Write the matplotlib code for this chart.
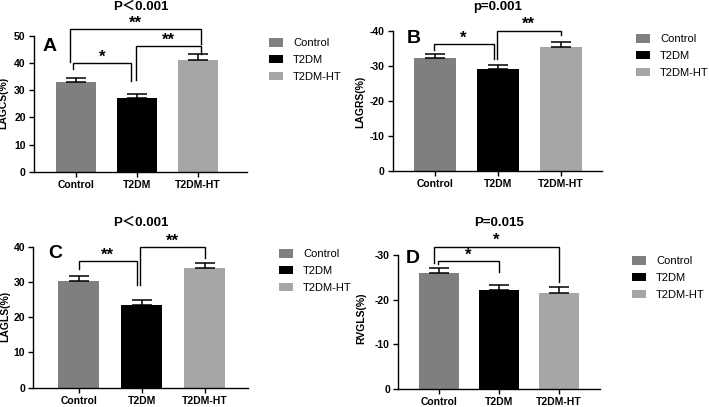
import numpy as np
import matplotlib
matplotlib.use("Agg")
import matplotlib.pyplot as plt
from matplotlib.patches import Patch

plt.rcParams['font.family'] = ['Liberation Sans', 'Noto Sans CJK SC']
plt.rcParams['axes.unicode_minus'] = False

GROUPS = ["Control", "T2DM", "T2DM-HT"]
COLORS = ["#7f7f7f", "#000000", "#a6a6a6"]

# values: bar means and upper error
lagcs_mean = [32.9, 27.0, 41.2]
lagcs_err = [1.7, 1.7, 2.0]
lagrs_mean = [-32.4, -29.1, -35.5]
lagrs_err = [0.9, 1.3, 1.3]
lagls_mean = [30.4, 23.6, 33.9]
lagls_err = [1.2, 1.4, 1.6]
rvgls_mean = [-25.9, -22.1, -21.4]
rvgls_err = [1.2, 1.2, 1.4]

# significance brackets: x start, x end, bracket level, left end, right end, stars
lagcs_sig = [(-0.04, 0.90, 40.0, 37.7, 33.4, "*"),
             (0.98, 2.05, 46.4, 33.8, 43.2, "**"),
             (-0.10, 2.05, 52.4, 40.5, 46.9, "**")]
lagrs_sig = [(-0.02, 0.93, -36.2, -34.6, -31.9, "*"),
             (0.98, 2.00, -40.1, -31.9, -38.9, "**")]
lagls_sig = [(0.01, 0.92, 35.9, 33.6, 29.1, "**"),
             (0.98, 2.00, 40.0, 29.1, 36.7, "**")]
rvgls_sig = [(-0.02, 0.99, -28.7, -27.9, -26.3, "*"),
             (-0.09, 2.00, -31.9, -28.1, -23.9, "*")]

W, H = 709, 407
fig = plt.figure(figsize=(W / 100, H / 100), dpi=100)


def px_rect(x0, x1, ytop, ybot):
    return [x0 / W, 1 - ybot / H, (x1 - x0) / W, (ybot - ytop) / H]


def draw_panel(rect, xlim, mean, err, sig, ylim, yticks, ylabel, ylabel_pos,
               title, title_y, letter, letter_pos, legend_px):
    ax = fig.add_axes(rect)
    x = np.arange(len(GROUPS))
    ax.bar(x, mean, width=0.66, color=COLORS, zorder=2)
    lower = [e if m < 0 else 0 for m, e in zip(mean, err)]
    upper = [e if m > 0 else 0 for m, e in zip(mean, err)]
    ax.errorbar(x, mean, yerr=[lower, upper], fmt='none', ecolor='black',
                elinewidth=1.1, capsize=7, capthick=1.1, zorder=3)

    for x1, x2, top, y1, y2, stars in sig:
        ax.plot([x1, x1, x2, x2], [y1, top, top, y2], color='black', lw=1.0,
                clip_on=False, solid_joinstyle='miter')
        ax.annotate(stars, xy=((x1 + x2) / 2, top), xytext=(0, 1),
                    textcoords='offset points', ha='center', va='baseline',
                    fontsize=12, fontweight='bold', annotation_clip=False)

    ax.set_xlim(*xlim)
    ax.set_ylim(*ylim)
    ax.set_xticks(x, GROUPS, fontsize=7.5, fontweight='bold')
    ax.set_yticks(yticks, [f"{t:d}" for t in yticks], fontsize=7.5, fontweight='bold')
    ax.tick_params(axis='both', length=3.5, width=1.0, direction='out', pad=2.5)
    for s in ['top', 'right']:
        ax.spines[s].set_visible(False)
    for s in ['left', 'bottom']:
        ax.spines[s].set_linewidth(1.0)

    ax.set_ylabel(ylabel, fontsize=7.5, fontweight='bold')
    ax.yaxis.set_label_coords(*ylabel_pos)
    ax.text(0.5, title_y, title, transform=ax.transAxes, ha='center', va='center',
            fontsize=9.5, fontweight='bold')
    ax.text(letter_pos[0], letter_pos[1], letter, transform=ax.transAxes,
            ha='center', va='center', fontsize=14, fontweight='bold')

    handles = [Patch(facecolor=c, edgecolor='none') for c in COLORS]
    ax.legend(handles, GROUPS, loc='upper left', frameon=False, fontsize=8,
              bbox_to_anchor=(legend_px[0] / W, 1 - legend_px[1] / H),
              bbox_transform=fig.transFigure, borderpad=0, borderaxespad=0,
              handlelength=1.25, handleheight=0.8, handletextpad=0.9,
              labelspacing=0.6)
    return ax


draw_panel(px_rect(34, 246.7, 36, 171.7), (-0.685, 2.8), lagcs_mean, lagcs_err,
           lagcs_sig, (0, 50), [0, 10, 20, 30, 40, 50], "LAGCS(%)", (-0.122, 0.506),
           "P＜0.001", 1.216, "A", (0.075, 0.921), (269, 38))
draw_panel(px_rect(392.7, 602, 31, 170.7), (-0.67, 2.65), lagrs_mean, lagrs_err,
           lagrs_sig, (0, -40), [0, -10, -20, -30, -40], "LAGRS(%)", (-0.132, 0.494),
           "p=0.001", 1.174, "B", (0.102, 0.943), (636, 34))
draw_panel(px_rect(33.3, 248, 246.7, 387.7), (-0.72, 2.69), lagls_mean, lagls_err,
           lagls_sig, (0, 40), [0, 10, 20, 30, 40], "LAGLS(%)", (-0.108, 0.503),
           "P＜0.001", 1.170, "C", (0.104, 0.953), (279, 249))
draw_panel(px_rect(398.3, 600, 255, 389), (-0.68, 2.68), rvgls_mean, rvgls_err,
           rvgls_sig, (0, -30), [0, -10, -20, -30], "RVGLS(%)", (-0.16, 0.53),
           "P=0.015", 1.241, "D", (0.074, 0.975), (632, 256))

fig.savefig("out.png", dpi=100)
